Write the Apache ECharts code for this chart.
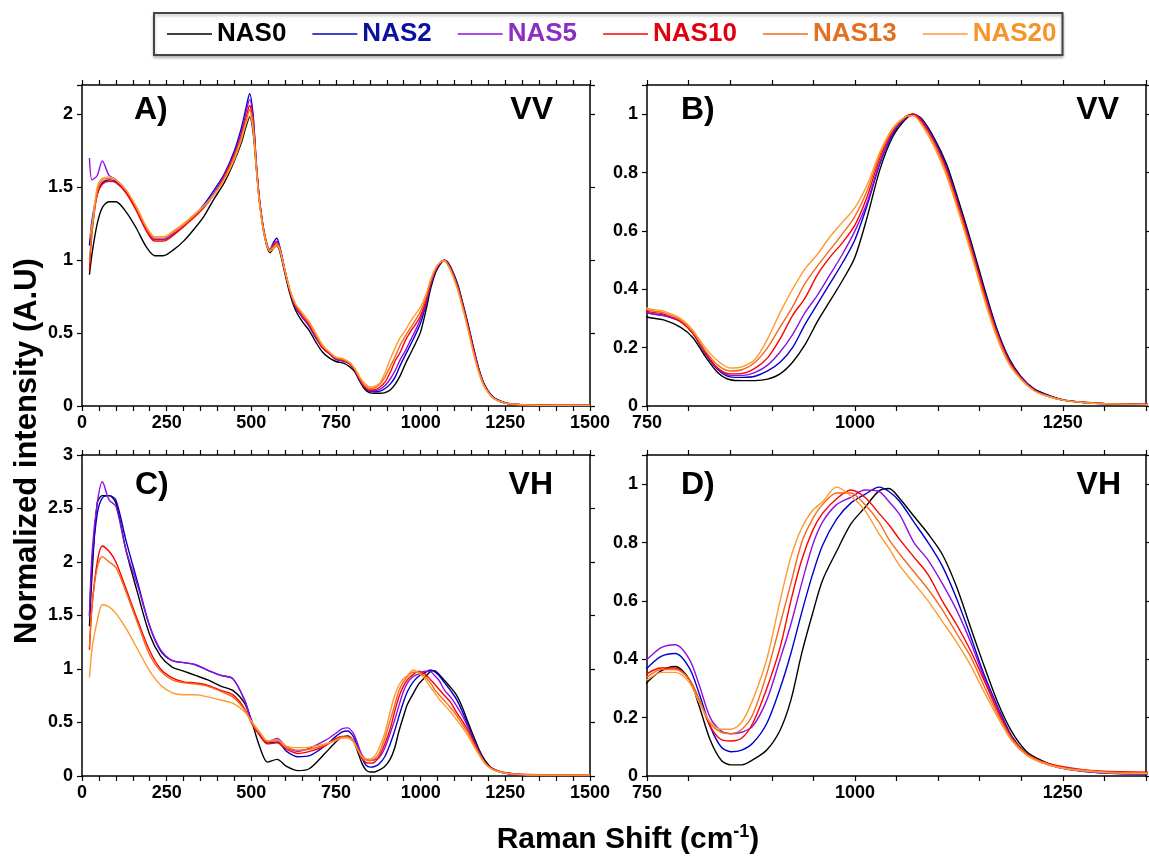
<!DOCTYPE html>
<html>
<head>
<meta charset="utf-8">
<script src="https://cdn.jsdelivr.net/npm/echarts@6/dist/echarts.min.js"></script>
<style>
html,body{margin:0;padding:0;background:#fff;}
#c{width:1149px;height:859px;}
</style>
</head>
<body>
<div id="c"></div>
<script>
// ---------------- DATA ----------------
const SERIES_NAMES = ['NAS0', 'NAS2', 'NAS5', 'NAS10', 'NAS13', 'NAS20'];

// VV polarisation (panels A and B)
const VV_X = [22, 30, 45, 60, 80, 100, 130, 160, 190, 215, 240, 270, 300, 330, 360, 390, 420, 450, 470, 485, 495, 505, 515, 525, 540, 555, 565, 575, 585, 600, 615, 630, 650, 670, 690, 710, 730, 750, 770, 790, 805, 820, 835, 850, 865, 880, 895, 910, 925, 940, 955, 970, 985, 1000, 1015, 1030, 1045, 1060, 1070, 1080, 1095, 1110, 1125, 1140, 1155, 1170, 1185, 1200, 1215, 1230, 1250, 1275, 1300, 1350, 1400, 1500];
const VV_NAS0 = [0.90,1.05,1.25,1.36,1.40,1.40, 1.33,1.22,1.09,1.03,1.03, 1.07,1.13,1.21,1.30,1.42, 1.53,1.68,1.80,1.92,1.98, 1.88,1.62,1.38,1.15,1.05, 1.08,1.10,1.05,0.90,0.76, 0.66,0.58,0.52,0.44,0.37, 0.33,0.305,0.295,0.27,0.235, 0.17,0.115,0.09,0.087,0.087, 0.092,0.11,0.15,0.21,0.29, 0.36,0.43,0.51,0.65,0.81, 0.92,0.98,1.0,0.985,0.92, 0.83,0.70,0.56,0.41,0.27, 0.165,0.10,0.06,0.04,0.022, 0.013,0.009,0.005,0.004,0.004];
const VV_NAS2 = [1.10,1.28,1.45,1.53,1.55,1.54, 1.47,1.35,1.21,1.14,1.14, 1.18,1.23,1.30,1.38,1.48, 1.59,1.75,1.90,2.05,2.14, 2.00,1.66,1.40,1.17,1.07, 1.12,1.15,1.08,0.92,0.78, 0.68,0.61,0.55,0.47,0.40, 0.36,0.32,0.31,0.29,0.25, 0.18,0.125,0.10,0.098,0.102, 0.12,0.15,0.20,0.28,0.35, 0.42,0.49,0.57,0.69,0.83, 0.93,0.985,1.0,0.98,0.915, 0.82,0.69,0.55,0.40,0.265, 0.16,0.098,0.058,0.038,0.02, 0.012,0.008,0.005,0.004,0.004];
const VV_NAS5 = [1.70,1.55,1.58,1.68,1.58,1.55, 1.47,1.35,1.21,1.14,1.14, 1.18,1.23,1.30,1.37,1.46, 1.58,1.73,1.87,2.02,2.10, 1.98,1.65,1.39,1.16,1.07, 1.11,1.13,1.08,0.92,0.78, 0.68,0.61,0.55,0.47,0.40, 0.36,0.32,0.31,0.29,0.25, 0.18,0.128,0.105,0.105,0.115, 0.14,0.185,0.245,0.32,0.38, 0.45,0.52,0.60,0.70,0.835, 0.935,0.985,1.0,0.98,0.91, 0.815,0.685,0.545,0.395,0.26, 0.158,0.096,0.056,0.036,0.02, 0.012,0.008,0.005,0.004,0.004];
const VV_NAS10 = [0.93,1.20,1.45,1.52,1.54,1.53, 1.46,1.34,1.20,1.13,1.13, 1.17,1.23,1.29,1.36,1.45, 1.57,1.72,1.85,1.98,2.06, 1.95,1.64,1.39,1.16,1.07, 1.10,1.12,1.07,0.92,0.78, 0.69,0.62,0.56,0.48,0.40, 0.36,0.325,0.315,0.29,0.25, 0.185,0.13,0.11,0.112,0.13, 0.165,0.23,0.31,0.37,0.45, 0.51,0.56,0.62,0.72,0.85, 0.94,0.99,1.0,0.975,0.905, 0.81,0.68,0.54,0.39,0.255, 0.155,0.094,0.055,0.036,0.02, 0.012,0.008,0.005,0.004,0.004];
const VV_NAS13 = [1.00,1.20,1.47,1.55,1.56,1.55, 1.48,1.36,1.22,1.15,1.15, 1.19,1.24,1.30,1.37,1.45, 1.56,1.71,1.84,1.96,2.03, 1.93,1.63,1.38,1.16,1.07, 1.09,1.11,1.07,0.92,0.79, 0.70,0.63,0.57,0.49,0.41, 0.37,0.33,0.32,0.295,0.255, 0.19,0.14,0.12,0.125,0.15, 0.20,0.27,0.34,0.42,0.48, 0.535,0.59,0.65,0.74,0.86, 0.945,0.99,0.995,0.97,0.90, 0.80,0.67,0.53,0.38,0.25, 0.15,0.092,0.054,0.035,0.02, 0.012,0.008,0.005,0.004,0.004];
const VV_NAS20 = [1.15,1.25,1.50,1.56,1.57,1.55, 1.48,1.37,1.23,1.16,1.16, 1.20,1.25,1.31,1.37,1.45, 1.55,1.69,1.82,1.94,1.99, 1.90,1.62,1.37,1.15,1.06, 1.08,1.10,1.06,0.92,0.79, 0.70,0.64,0.58,0.50,0.42, 0.37,0.335,0.325,0.30,0.26, 0.20,0.155,0.13,0.135,0.16, 0.23,0.32,0.40,0.47,0.52, 0.58,0.63,0.68,0.76,0.87, 0.95,0.99,0.995,0.965,0.89, 0.79,0.66,0.52,0.37,0.24, 0.145,0.09,0.053,0.035,0.02, 0.012,0.008,0.005,0.004,0.004];

// VH polarisation (panels C and D)
const VH_X = [22, 30, 45, 60, 80, 100, 130, 165, 200, 232, 265, 300, 335, 370, 410, 445, 480, 503, 525, 548, 576, 604, 638, 672, 717, 750, 767, 784, 801, 813, 826, 839, 851, 864, 877, 894, 910, 923, 936, 949, 961, 978, 995, 1012, 1029, 1041, 1054, 1071, 1088, 1105, 1122, 1139, 1155, 1172, 1189, 1206, 1223, 1244, 1274, 1316, 1400, 1500];
const VH_NAS0 = [1.40,1.90,2.55,2.62,2.62,2.55, 2.11,1.70,1.32,1.12,1.02, 0.98,0.94,0.90,0.84,0.80, 0.68,0.49,0.27,0.13,0.155, 0.09,0.05,0.07,0.21,0.32, 0.36,0.375,0.33,0.237,0.123, 0.055,0.038,0.038,0.055,0.089, 0.157,0.26,0.42,0.556,0.67, 0.77,0.863,0.92,0.977,0.985, 0.95,0.89,0.83,0.76,0.65, 0.51,0.38,0.25,0.15,0.085, 0.055,0.032,0.02,0.01,0.008, 0.008];
const VH_NAS2 = [1.50,2.00,2.45,2.60,2.62,2.58, 2.20,1.80,1.40,1.17,1.08, 1.06,1.04,0.99,0.94,0.91, 0.71,0.50,0.38,0.31,0.32, 0.23,0.18,0.19,0.28,0.37, 0.41,0.42,0.37,0.28,0.17, 0.10,0.083,0.089,0.112,0.18, 0.30,0.42,0.56,0.69,0.79, 0.88,0.935,0.965,0.99,0.975, 0.94,0.87,0.80,0.72,0.61, 0.48,0.35,0.235,0.135,0.077, 0.05,0.03,0.016,0.008,0.006, 0.005];
const VH_NAS5 = [1.49,2.10,2.55,2.75,2.58,2.52, 2.11,1.77,1.40,1.18,1.08, 1.06,1.04,0.99,0.94,0.91, 0.71,0.49,0.40,0.32,0.35, 0.27,0.23,0.26,0.33,0.40, 0.44,0.45,0.40,0.31,0.20, 0.155,0.145,0.15,0.17,0.26, 0.40,0.52,0.66,0.79,0.87, 0.93,0.955,0.98,0.975,0.94, 0.895,0.80,0.74,0.66,0.57, 0.46,0.34,0.23,0.13,0.075, 0.048,0.03,0.016,0.008,0.006, 0.005];
const VH_NAS10 = [1.18,1.60,2.00,2.15,2.10,2.00, 1.75,1.45,1.17,1.00,0.92, 0.88,0.87,0.85,0.80,0.76, 0.63,0.48,0.38,0.30,0.31, 0.25,0.21,0.23,0.28,0.35, 0.37,0.37,0.33,0.26,0.17, 0.125,0.12,0.13,0.18,0.30, 0.44,0.60,0.74,0.84,0.90, 0.95,0.98,0.955,0.90,0.86, 0.81,0.75,0.69,0.60,0.52, 0.43,0.33,0.22,0.13,0.078, 0.052,0.035,0.022,0.015,0.012, 0.012];
const VH_NAS13 = [1.20,1.60,1.95,2.05,2.00,1.95, 1.72,1.42,1.13,0.98,0.90, 0.87,0.86,0.84,0.79,0.74, 0.62,0.49,0.40,0.32,0.33, 0.27,0.24,0.25,0.29,0.34, 0.365,0.365,0.33,0.26,0.18, 0.15,0.145,0.16,0.21,0.35, 0.52,0.66,0.80,0.88,0.93, 0.97,0.97,0.93,0.87,0.81, 0.76,0.70,0.64,0.57,0.49, 0.41,0.31,0.21,0.125,0.075, 0.05,0.032,0.02,0.012,0.01, 0.01];
const VH_NAS20 = [0.92,1.20,1.45,1.60,1.58,1.52, 1.38,1.18,0.98,0.85,0.78, 0.76,0.76,0.74,0.71,0.68, 0.60,0.50,0.41,0.33,0.34, 0.28,0.265,0.27,0.30,0.33, 0.355,0.355,0.32,0.25,0.185, 0.16,0.16,0.185,0.26,0.40, 0.60,0.75,0.85,0.91,0.94, 0.99,0.96,0.91,0.83,0.78, 0.72,0.66,0.60,0.53,0.46, 0.38,0.29,0.20,0.12,0.072, 0.048,0.03,0.018,0.01,0.008, 0.008];

// tick labels
const X_LABELS_FULL = [0, 250, 500, 750, 1000, 1250, 1500];
const X_LABELS_ZOOM = [750, 1000, 1250];
const Y_LABELS_A = [0, 0.5, 1, 1.5, 2];
const Y_LABELS_C = [0, 0.5, 1, 1.5, 2, 2.5, 3];
const Y_LABELS_BD = [0, 0.2, 0.4, 0.6, 0.8, 1];
const PANEL_LETTERS = ['A)', 'B)', 'C)', 'D)'];
const PANEL_POL = ['VV', 'VV', 'VH', 'VH'];

// ---------------- STYLE ----------------
const LINE_COLORS = ['#000000', '#0000d0', '#9010e0', '#ff0000', '#f26a1a', '#ff9a30'];
const LEGEND_COLORS = ['#000000', '#0a10a0', '#8a2fc0', '#e00010', '#e2701e', '#f5942a'];
const FONT = '"Liberation Sans", Arial, Helvetica, sans-serif';

const VV_Y = [VV_NAS0, VV_NAS2, VV_NAS5, VV_NAS10, VV_NAS13, VV_NAS20];
const VH_Y = [VH_NAS0, VH_NAS2, VH_NAS5, VH_NAS10, VH_NAS13, VH_NAS20];

const panels = [
  {grid: {left: 82, top: 85, width: 508, height: 321}, xMin: 0, xMax: 1500, yMax: 2.2, yStep: 0.5, X: VV_X, Y: VV_Y, xl: X_LABELS_FULL, yl: Y_LABELS_A, letterX: 134, polX: 553, labY: 110},
  {grid: {left: 647, top: 85, width: 508, height: 321}, xMin: 750, xMax: 1350, yMax: 1.1, yStep: 0.2, X: VV_X, Y: VV_Y, xl: X_LABELS_ZOOM, yl: Y_LABELS_BD, letterX: 681, polX: 1119, labY: 110},
  {grid: {left: 82, top: 455, width: 508, height: 321}, xMin: 0, xMax: 1500, yMax: 3, yStep: 0.5, X: VH_X, Y: VH_Y, xl: X_LABELS_FULL, yl: Y_LABELS_C, letterX: 135, polX: 553, labY: 485},
  {grid: {left: 647, top: 455, width: 508, height: 321}, xMin: 750, xMax: 1350, yMax: 1.1, yStep: 0.2, X: VH_X, Y: VH_Y, xl: X_LABELS_ZOOM, yl: Y_LABELS_BD, letterX: 681, polX: 1121, labY: 485}
];

function inList(list, v) { return list.some(l => Math.abs(l - v) < 1e-6); }

const axisLineStyle = {color: '#000', width: 1.5};
const tickStyle = {length: 5, lineStyle: {color: '#000', width: 1.2}};
const labelBase = {color: '#000', fontWeight: 'bold', fontSize: 18, fontFamily: FONT};

const grids = [], xAxes = [], yAxes = [], series = [], graphics = [];
panels.forEach((p, i) => {
  grids.push(Object.assign({show: false}, p.grid));
  ['bottom', 'top'].forEach((pos, k) => {
    xAxes.push({
      type: 'value', gridIndex: i, position: pos, min: p.xMin, max: p.xMax, interval: 50,
      axisLine: {show: true, onZero: false, lineStyle: axisLineStyle},
      axisTick: Object.assign({show: true, inside: false}, tickStyle),
      axisLabel: Object.assign({show: k === 0, margin: 8, formatter: v => inList(p.xl, v) ? String(v) : ''}, labelBase),
      splitLine: {show: false}
    });
  });
  ['left', 'right'].forEach((pos, k) => {
    yAxes.push({
      type: 'value', gridIndex: i, position: pos, min: 0, max: p.yMax, interval: p.yStep,
      axisLine: {show: true, onZero: false, lineStyle: axisLineStyle},
      axisTick: Object.assign({show: true, inside: false}, tickStyle),
      axisLabel: Object.assign({show: k === 0, margin: 9, formatter: v => inList(p.yl, v) ? String(v) : ''}, labelBase),
      splitLine: {show: false}
    });
  });
  SERIES_NAMES.forEach((name, s) => {
    series.push({
      type: 'line', name: name, xAxisIndex: 2 * i, yAxisIndex: 2 * i,
      data: p.X.map((x, k) => [x, p.Y[s][k]]),
      showSymbol: false, symbol: 'none', smooth: 0.3,
      lineStyle: {width: 1.4, color: LINE_COLORS[s]}, itemStyle: {color: LINE_COLORS[s]},
      clip: true, animation: false, z: 2 + s
    });
  });
  graphics.push({type: 'text', x: p.letterX, y: p.labY, style: {text: PANEL_LETTERS[i], font: 'bold 32px ' + FONT, fill: '#000', textAlign: 'left', textVerticalAlign: 'middle'}});
  graphics.push({type: 'text', x: p.polX, y: p.labY, style: {text: PANEL_POL[i], font: 'bold 32px ' + FONT, fill: '#000', textAlign: 'right', textVerticalAlign: 'middle'}});
});

graphics.push({
  type: 'text', x: 27, y: 451, rotation: Math.PI / 2,
  style: {text: 'Normalized intensity (A.U)', font: 'bold 31px ' + FONT, fill: '#000', textAlign: 'center', textVerticalAlign: 'middle'}
});
graphics.push({
  type: 'text', x: 628, y: 840,
  style: {
    text: '{a|Raman Shift (cm}{s|-1}{a|)}', fill: '#000', textAlign: 'center', textVerticalAlign: 'middle',
    rich: {
      a: {font: 'bold 30px ' + FONT, fill: '#000', lineHeight: 34},
      s: {font: 'bold 18px ' + FONT, fill: '#000', verticalAlign: 'top', lineHeight: 18}
    }
  }
});

const option = {
  backgroundColor: '#fff',
  animation: false,
  legend: {
    left: 154, top: 13, orient: 'horizontal',
    padding: [8, 6, 8, 13], itemWidth: 45, itemHeight: 1.5, itemGap: 26,
    borderColor: '#444', borderWidth: 2, backgroundColor: '#fff',
    shadowColor: 'rgba(0,0,0,0.25)', shadowBlur: 3, shadowOffsetY: 2,
    textStyle: {fontSize: 26, fontWeight: 'bold', fontFamily: FONT},
    data: SERIES_NAMES.map((n, i) => ({name: n, icon: 'rect', textStyle: {color: LEGEND_COLORS[i]}})),
    selectedMode: false
  },
  grid: grids, xAxis: xAxes, yAxis: yAxes, series: series, graphic: graphics
};

const chart = echarts.init(document.getElementById('c'), null, {renderer: 'canvas'});
chart.setOption(option);
</script>
</body>
</html>
